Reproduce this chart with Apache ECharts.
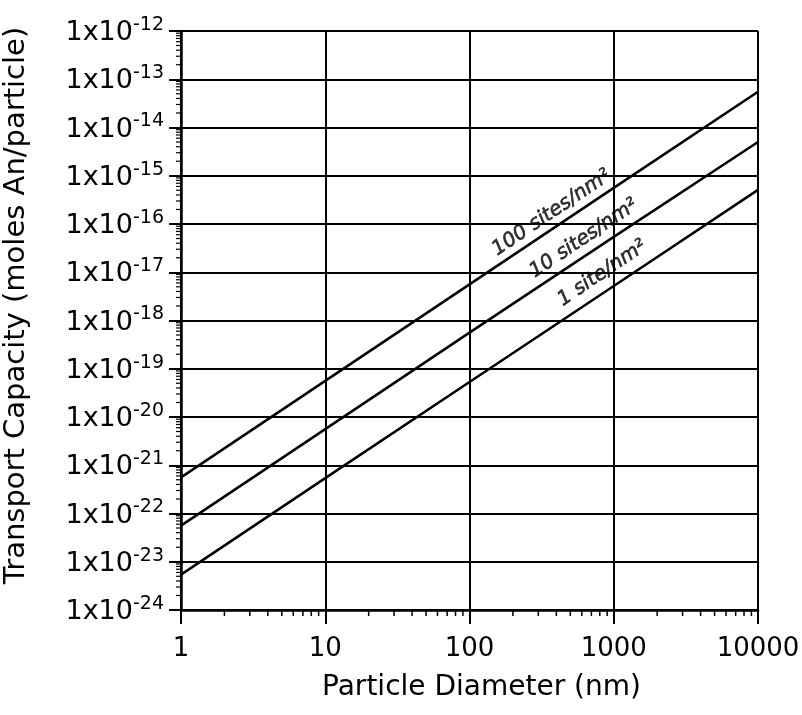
<!DOCTYPE html>
<html>
<head>
<meta charset="utf-8">
<script src="https://cdn.jsdelivr.net/npm/echarts@6/dist/echarts.min.js"></script>
<style>
html,body{margin:0;padding:0;background:#fff;}
#chart{width:802px;height:715px;}
</style>
</head>
<body>
<div id="chart"></div>
<script>
// Particle diameters (nm)
const diameters = [1, 10, 100, 1000, 10000];
// Transport capacity (moles An/particle)
const sites100 = [5.6e-22, 5.6e-20, 5.6e-18, 5.6e-16, 5.5e-14];
const sites10  = [5.6e-23, 5.6e-21, 5.6e-19, 5.4e-17, 5.0e-15];
const sites1   = [5.4e-24, 5.4e-22, 5.3e-20, 5.2e-18, 5.1e-16];
// Axis ranges
const xMin = 1, xMax = 10000;
const yMin = 1e-24, yMax = 1e-12;
// Minor tick positions
const xMinorTicks = [2,3,4,5,6,7,8,9,20,30,40,50,60,70,80,90,200,300,400,500,600,700,800,900,2000,3000,4000,5000,6000,7000,8000,9000];
const yMinorMantissas = [2,3,4,5,6,7,8,9];
const yDecades = [-24,-23,-22,-21,-20,-19,-18,-17,-16,-15,-14,-13];
// Handwritten annotations: [label, x, y]
const notes = [
  ['100 sites/nm\u00B2', 370, 1.7e-16],
  ['10 sites/nm\u00B2', 620, 5.0e-17],
  ['1 site/nm\u00B2', 830, 9.5e-18]
];

// The y axis is a decade (log10) axis: one unit per power of ten.
const lg = v => Math.log10(v);

const yMinorTicks = [];
yDecades.forEach(d => yMinorMantissas.forEach(m => yMinorTicks.push(m * Math.pow(10, d))));

function pairs(xs, yv) { return xs.map((x, i) => [x, lg(yv[i])]); }

const chart = echarts.init(document.getElementById('chart'));
const font = '"DejaVu Sans", "Liberation Sans", sans-serif';

const lineStyle = { color: '#000', width: 2.5 };

const option = {
  backgroundColor: '#fff',
  animation: false,
  grid: { left: 181, right: 44, top: 31, bottom: 105, containLabel: false, outerBoundsMode: 'none' },
  xAxis: {
    type: 'log', logBase: 10, min: xMin, max: xMax, splitNumber: 4,
    name: 'Particle Diameter (nm)', nameLocation: 'middle', nameGap: 64,
    nameTextStyle: { fontFamily: font, fontSize: 28, color: '#000', padding: [0, 0, 0, 24] },
    axisLine: { show: true, lineStyle: { color: '#000', width: 2.5 } },
    axisTick: { show: true, inside: false, length: 14, lineStyle: { color: '#000', width: 2 } },
    axisLabel: { fontFamily: font, fontSize: 26, color: '#000', margin: 26, formatter: v => String(v) },
    splitLine: { show: true, lineStyle: { color: '#000', width: 2 } }
  },
  yAxis: {
    type: 'value', min: lg(yMin), max: lg(yMax), interval: 1,
    name: 'Transport Capacity (moles An/particle)', nameLocation: 'middle', nameGap: 150,
    nameTextStyle: { fontFamily: font, fontSize: 29, color: '#000', padding: [0, 0, 0, 30] },
    axisLine: { show: true, lineStyle: { color: '#000', width: 2.5 } },
    axisTick: { show: true, inside: false, length: 12, lineStyle: { color: '#000', width: 2 } },
    axisLabel: {
      margin: 17,
      formatter: function (v) {
        return '{b|1x10}{s|' + Math.round(v) + '}';
      },
      rich: {
        b: { fontFamily: font, fontSize: 27, color: '#000', lineHeight: 31, verticalAlign: 'bottom' },
        s: { fontFamily: font, fontSize: 19, color: '#000', lineHeight: 19, verticalAlign: 'top' }
      }
    },
    splitLine: { show: true, lineStyle: { color: '#000', width: 2 } }
  },
  series: [
    { type: 'line', data: pairs(diameters, sites100), showSymbol: false, symbol: 'none', lineStyle: lineStyle, z: 5 },
    { type: 'line', data: pairs(diameters, sites10), showSymbol: false, symbol: 'none', lineStyle: lineStyle, z: 5 },
    { type: 'line', data: pairs(diameters, sites1), showSymbol: false, symbol: 'none', lineStyle: lineStyle, z: 5 },
    {
      type: 'custom', clip: false, silent: true,
      data: xMinorTicks.map(x => [x, lg(yMin)]),
      renderItem: function (params, api) {
        const p = api.coord([api.value(0), api.value(1)]);
        return { type: 'line', shape: { x1: p[0], y1: p[1], x2: p[0], y2: p[1] + 6 }, style: { stroke: '#000', lineWidth: 1.5 } };
      }
    },
    {
      type: 'custom', clip: false, silent: true,
      data: yMinorTicks.map(y => [xMin, lg(y)]),
      renderItem: function (params, api) {
        const p = api.coord([api.value(0), api.value(1)]);
        return { type: 'line', shape: { x1: p[0] - 5, y1: p[1], x2: p[0], y2: p[1] }, style: { stroke: '#000', lineWidth: 1.2 } };
      }
    },
    {
      type: 'scatter', silent: true, symbolSize: 1,
      itemStyle: { color: 'rgba(0,0,0,0)' },
      data: notes.map(n => ({ value: [n[1], lg(n[2])], name: n[0] })),
      label: {
        show: true, position: 'inside', rotate: 34,
        formatter: p => p.name,
        fontFamily: '"DejaVu Sans", sans-serif', fontStyle: 'italic', fontSize: 20, color: '#000',
        textBorderColor: '#000', textBorderWidth: 0.6
      },
      z: 6
    }
  ]
};
chart.setOption(option);
</script>
</body>
</html>
